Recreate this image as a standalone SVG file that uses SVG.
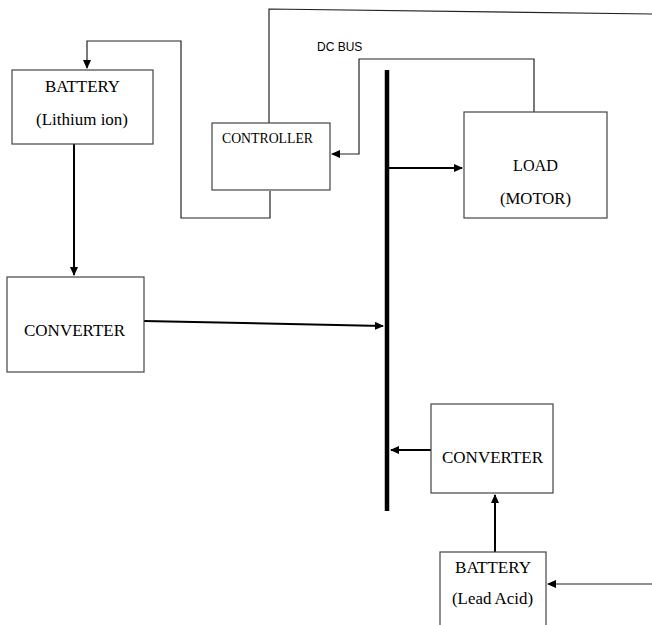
<svg xmlns="http://www.w3.org/2000/svg" width="652" height="625" viewBox="0 0 652 625">
<defs>
<marker id="ah" markerWidth="9" markerHeight="8" refX="8" refY="4" orient="auto" markerUnits="userSpaceOnUse">
<path d="M0,0 L9,4 L0,8 Z" fill="#000"/>
</marker>
<style>
.box{fill:#fff;stroke:#444;stroke-width:1.2}
.t{font-family:"Liberation Serif","Times New Roman",serif;fill:#000;text-anchor:middle}
.thick{stroke:#000;stroke-width:2;fill:none}
.thin{stroke:#222;stroke-width:1.2;fill:none}
</style>
</defs>
<rect width="652" height="625" fill="#fff"/>
<g id="connectors">
<line x1="387" y1="70" x2="387" y2="511" stroke="#000" stroke-width="4.5"/>
<polyline class="thin" points="270,191 270,218 181,218 181,41 87,41 87,68" marker-end="url(#ah)"/>
<polyline class="thin" points="269,123 269,9 652,14"/>
<polyline class="thin" points="534,112 534,59 359,59 359,154 332,154" marker-end="url(#ah)"/>
<line class="thick" x1="389" y1="168" x2="462" y2="168" marker-end="url(#ah)"/>
<line class="thick" x1="74" y1="144" x2="74" y2="275" marker-end="url(#ah)"/>
<line class="thick" x1="144" y1="321" x2="383" y2="326" marker-end="url(#ah)"/>
<line class="thick" x1="431" y1="450" x2="391" y2="450" marker-end="url(#ah)"/>
<line class="thick" x1="495" y1="552" x2="495" y2="495" marker-end="url(#ah)"/>
<line class="thin" x1="652" y1="584" x2="548" y2="584" marker-end="url(#ah)"/>
</g>
<text x="317" y="51" font-family="'Liberation Sans',Arial,sans-serif" font-size="12" fill="#000">DC BUS</text>
<g id="battery-li">
<rect class="box" x="12" y="70" width="141" height="74"/>
<text class="t" x="82.5" y="92" font-size="17.5" textLength="75" lengthAdjust="spacingAndGlyphs">BATTERY</text>
<text class="t" x="82" y="125" font-size="17.5" textLength="92" lengthAdjust="spacingAndGlyphs">(Lithium ion)</text>
</g>
<g id="controller">
<rect class="box" x="212" y="123" width="118" height="67"/>
<text class="t" x="267.5" y="143" font-size="14.5" textLength="91" lengthAdjust="spacingAndGlyphs">CONTROLLER</text>
</g>
<g id="load">
<rect class="box" x="464" y="112" width="143" height="106"/>
<text class="t" x="535.5" y="171" font-size="17.5" textLength="45" lengthAdjust="spacingAndGlyphs">LOAD</text>
<text class="t" x="535.5" y="204" font-size="17.5" textLength="71" lengthAdjust="spacingAndGlyphs">(MOTOR)</text>
</g>
<g id="converter1">
<rect class="box" x="7" y="277" width="137" height="95"/>
<text class="t" x="74.5" y="336" font-size="17" textLength="101" lengthAdjust="spacingAndGlyphs">CONVERTER</text>
</g>
<g id="converter2">
<rect class="box" x="431" y="404" width="122" height="89"/>
<text class="t" x="492.5" y="463" font-size="17" textLength="101" lengthAdjust="spacingAndGlyphs">CONVERTER</text>
</g>
<g id="battery-la">
<rect class="box" x="440" y="552" width="106" height="80"/>
<text class="t" x="493" y="573" font-size="17" textLength="76" lengthAdjust="spacingAndGlyphs">BATTERY</text>
<text class="t" x="492.5" y="604" font-size="17" textLength="81" lengthAdjust="spacingAndGlyphs">(Lead Acid)</text>
</g>
</svg>
